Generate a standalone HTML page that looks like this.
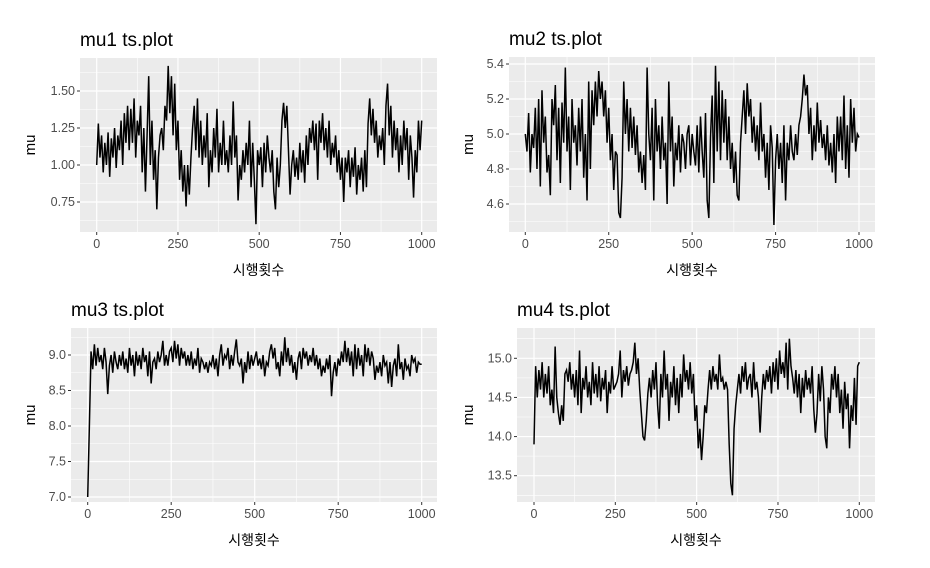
<!DOCTYPE html>
<html><head><meta charset="utf-8">
<style>
html,body{margin:0;padding:0;background:#fff;}
svg{display:block;}
text{font-family:"Liberation Sans","Noto Sans CJK KR",sans-serif;}
</style></head>
<body>
<svg id="chart" width="930" height="568" viewBox="0 0 930 568" xmlns="http://www.w3.org/2000/svg"></svg>
<script>
const xTicks = [0, 250, 500, 750, 1000];
const xMinor = [125, 375, 625, 875];
const stepSize = 5;
const mu1Values = [
1.0,1.28,1.05,1.2,0.95,1.15,1.0,1.22,0.92,1.18,1.05,1.25,0.98,1.2,1.1,1.3,1.0,1.35,1.15,1.4,
1.1,1.38,1.15,1.45,1.05,1.3,1.2,1.4,0.95,1.25,0.82,1.2,1.6,1.0,1.3,0.9,1.1,0.7,1.05,1.2,
1.25,1.1,1.4,1.3,1.67,1.35,1.6,1.2,1.55,1.1,1.3,0.9,1.1,0.82,1.0,0.72,1.0,0.8,1.05,1.25,
1.4,1.1,1.45,1.05,1.3,1.0,1.2,1.05,1.35,0.85,1.1,0.95,1.25,1.05,1.38,0.95,1.15,1.0,1.3,1.0,
1.1,0.95,1.2,1.0,1.43,1.05,1.2,0.76,1.0,0.9,1.1,0.95,1.15,1.0,1.3,0.85,1.15,0.9,0.6,1.1,
1.0,1.12,0.85,1.15,0.95,1.2,1.05,0.95,1.1,0.82,0.7,1.05,0.85,1.0,1.3,1.42,1.25,1.4,1.1,0.8,
1.0,1.1,0.92,1.05,0.9,1.15,0.95,1.1,0.88,1.2,1.0,1.25,1.15,1.3,1.1,1.28,0.9,1.3,1.15,1.35,
1.1,1.25,1.05,1.3,1.0,1.15,1.05,1.2,0.95,1.1,0.9,1.05,0.75,1.05,0.95,1.1,0.85,1.05,0.92,1.12,
0.8,1.0,0.9,1.05,0.82,1.1,0.85,1.28,1.45,1.2,1.38,1.15,1.3,1.05,1.2,1.1,1.25,1.0,1.4,1.55,
1.2,1.4,1.05,1.3,1.1,1.25,0.95,1.2,1.0,1.3,1.1,1.25,0.9,1.2,1.05,0.78,1.1,0.95,1.3,1.1,1.3];
const mu2Values = [
5.0,4.9,5.12,4.78,5.0,4.92,5.15,4.8,5.2,4.7,5.25,4.95,5.1,4.78,4.88,4.65,5.2,5.05,5.28,4.85,
5.15,4.72,5.18,4.95,5.38,4.9,5.1,4.68,5.2,4.95,5.05,4.82,5.15,4.9,5.2,4.75,5.0,4.62,5.3,4.8,
5.25,5.05,5.3,5.1,5.36,5.2,5.3,5.1,5.25,4.95,5.15,4.85,5.0,4.68,4.9,4.88,4.55,4.52,4.75,5.3,
5.0,5.2,4.9,5.15,4.92,5.1,4.88,5.05,4.78,4.9,4.72,4.88,4.68,5.38,5.0,4.85,5.15,4.62,5.2,4.9,
5.05,4.8,5.1,4.85,4.95,4.6,5.3,4.9,5.1,4.7,4.95,4.85,5.05,4.78,5.0,4.95,4.8,5.0,5.05,4.82,
5.0,4.9,4.82,5.05,4.78,5.1,4.9,4.75,5.12,4.62,4.52,4.98,5.22,4.72,5.39,4.9,5.3,4.85,5.25,4.95,
5.2,4.85,5.1,4.8,4.95,4.72,4.9,4.65,4.62,4.95,5.1,5.25,5.0,5.29,5.1,5.2,4.95,5.1,4.9,5.05,
4.85,5.18,4.9,5.0,4.75,4.95,4.68,5.05,4.92,4.48,4.85,5.0,4.8,4.95,4.72,5.05,4.62,4.95,4.85,5.05,
4.9,4.85,5.0,4.88,5.05,5.1,5.2,5.34,5.22,5.28,5.0,5.15,4.85,5.05,4.9,5.18,4.95,5.08,4.92,5.0,
4.85,5.05,4.82,4.95,4.78,5.0,4.72,5.1,4.9,5.1,4.85,5.22,4.8,5.05,4.75,5.2,4.95,5.15,4.9,5.0,4.98];
const mu3Values = [
7.0,8.0,9.05,8.8,9.15,8.85,9.1,8.9,9.0,8.8,9.1,8.9,8.45,8.85,9.0,8.75,9.05,8.9,8.8,9.0,
8.85,9.05,8.8,8.95,8.75,9.1,8.85,9.0,8.7,9.05,8.85,9.0,8.8,9.1,8.9,9.0,8.7,9.05,8.6,8.9,
8.95,8.8,9.05,8.9,9.0,9.2,8.85,9.0,8.85,9.05,9.1,8.9,9.2,8.95,9.15,8.85,9.1,8.95,9.05,8.85,
9.0,8.85,9.05,8.8,8.95,8.85,9.1,8.75,8.95,8.9,8.8,8.9,8.75,8.9,8.85,9.0,8.8,8.95,8.7,9.0,
9.15,8.85,9.0,8.95,9.1,8.8,9.0,8.85,9.05,9.22,8.9,8.85,8.95,8.6,8.9,8.75,9.05,8.8,9.0,8.85,
8.95,9.05,8.85,8.95,8.8,9.0,8.7,8.9,8.85,9.05,9.15,8.95,9.1,8.8,8.9,8.7,9.05,8.85,9.25,8.9,
9.1,8.85,9.0,8.75,8.9,8.65,8.95,9.05,8.8,9.1,8.95,9.05,8.85,9.0,8.9,9.1,8.85,9.0,8.8,8.95,
8.7,8.85,8.75,8.95,8.8,9.0,8.42,8.75,8.9,8.7,8.95,8.85,9.05,8.9,9.2,8.9,9.1,8.85,9.05,8.7,
9.15,8.8,9.1,8.85,9.0,8.7,9.15,8.9,9.1,8.85,9.05,8.95,8.65,8.85,8.75,8.9,8.7,9.0,8.85,8.9,
8.6,8.9,8.55,8.85,8.95,8.7,9.15,8.8,8.9,8.65,8.95,8.8,8.85,8.7,9.0,8.9,8.95,8.75,8.9,8.87,8.87];
const mu4Values = [
13.9,14.9,14.5,14.85,14.6,14.95,14.5,14.8,14.55,14.9,14.4,14.6,14.3,15.15,14.5,14.3,14.15,14.4,14.2,14.8,
14.85,14.7,14.95,14.6,14.8,14.5,14.85,14.4,15.1,14.3,14.75,14.6,14.9,14.5,14.7,14.4,14.95,14.55,14.8,14.5,
14.9,14.45,14.75,14.6,14.85,14.3,14.7,14.55,14.9,14.6,14.65,14.7,14.8,15.1,14.5,14.85,14.7,14.9,14.65,14.8,
14.85,14.95,15.2,14.8,15.0,14.6,14.3,14.0,13.95,14.2,14.55,14.75,14.5,14.85,14.6,14.95,14.4,14.1,14.8,14.5,
15.1,14.6,14.8,14.2,14.7,14.5,14.9,14.4,14.75,14.3,14.8,14.5,15.05,14.7,14.85,14.6,14.95,14.55,14.8,14.2,
14.4,13.85,14.1,13.7,14.0,14.4,14.3,14.6,14.85,14.6,14.9,14.7,14.8,14.6,15.05,14.7,14.75,14.6,14.7,14.6,
13.9,13.4,13.25,14.1,14.4,14.6,14.8,14.55,14.9,14.7,14.95,14.6,14.75,14.8,14.5,14.95,14.6,14.7,14.5,14.05,
14.5,14.8,14.6,14.85,14.7,14.9,14.55,14.95,14.7,15.0,14.6,15.1,14.8,14.95,14.75,15.2,14.6,15.25,14.9,14.75,
14.55,14.85,14.5,14.8,14.3,14.75,14.5,14.85,14.6,14.75,14.55,14.9,14.35,14.05,14.3,14.8,14.45,14.9,14.6,14.0,
13.85,14.5,14.3,14.8,14.6,14.9,14.5,14.8,14.3,14.6,14.1,14.7,14.35,14.55,13.85,14.4,14.2,14.75,14.15,14.9,14.95];
const mu1Ticks = [0.75, 1.00, 1.25, 1.50];
const mu2Ticks = [4.6, 4.8, 5.0, 5.2, 5.4];
const mu3Ticks = [7.0, 7.5, 8.0, 8.5, 9.0];
const mu4Ticks = [13.5, 14.0, 14.5, 15.0];

const NS = "http://www.w3.org/2000/svg";
const svg = document.getElementById('chart');
function mk(tag, attrs, parent){
  const e = document.createElementNS(NS, tag);
  for (const k in attrs) e.setAttribute(k, attrs[k]);
  (parent||svg).appendChild(e);
  return e;
}
function panel(cfg){
  const g = mk('g', {});
  
  
  const sx = v => cfg.x0 + (v - 0) * (cfg.x1000 - cfg.x0) / 1000;
  const sy = v => cfg.yA + (v - cfg.vA) * (cfg.yB - cfg.yA) / (cfg.vB - cfg.vA);
  const bg = mk('rect', {x:cfg.L, y:cfg.T, width:cfg.R-cfg.L, height:cfg.B-cfg.T, fill:'#EBEBEB'}, g);
  
  
  const step = cfg.ticks[1]-cfg.ticks[0];
  for (let v = cfg.ticks[0]-step*2; v <= cfg.ticks[cfg.ticks.length-1]+step*2; v += step){
    const m = v + step/2, y = sy(m);
    if (y > cfg.T && y < cfg.B) mk('line', {x1:cfg.L, x2:cfg.R, y1:y, y2:y, stroke:'#fff', 'stroke-width':0.6}, g);
  }
  xMinor.forEach(v => { const x = sx(v); mk('line', {x1:x, x2:x, y1:cfg.T, y2:cfg.B, stroke:'#fff', 'stroke-width':0.6}, g); });
  cfg.ticks.forEach(v => {
    const y = sy(v);
    mk('line', {x1:cfg.L, x2:cfg.R, y1:y, y2:y, stroke:'#fff', 'stroke-width':1.2}, g);
    mk('line', {x1:cfg.L-3, x2:cfg.L, y1:y, y2:y, stroke:'#333', 'stroke-width':1}, g);
    const t = mk('text', {x:cfg.L-5, y:y+4, 'text-anchor':'end', 'font-size':12.5, fill:'#4D4D4D'}, g);
    t.textContent = cfg.fmt(v);
    
    
  });
  xTicks.forEach(v => {
    const x = sx(v);
    mk('line', {x1:x, x2:x, y1:cfg.T, y2:cfg.B, stroke:'#fff', 'stroke-width':1.2}, g);
    mk('line', {x1:x, x2:x, y1:cfg.B, y2:cfg.B+3, stroke:'#333', 'stroke-width':1}, g);
    const t = mk('text', {x:x, y:cfg.B+16, 'text-anchor':'middle', 'font-size':12.5, fill:'#4D4D4D'}, g);
    t.textContent = v;
    
    
  });
  const pts = cfg.data.map((v,i) => sx(i*stepSize).toFixed(2) + ',' + sy(v).toFixed(2)).join(' ');
  const line = mk('polyline', {points:pts, fill:'none', stroke:'#000', 'stroke-width':1.5, 'stroke-linejoin':'miter'}, g);
  
  
  const title = mk('text', {x:cfg.L, y:cfg.T-12, 'font-size':19, fill:'#000'}, g);
  title.textContent = cfg.name + ' ts.plot';
  
  
  const yl = mk('text', {x:0, y:0, 'text-anchor':'middle', 'font-size':15, fill:'#000', transform:`translate(${cfg.ylx},${(cfg.T+cfg.B)/2}) rotate(-90)`}, g);
  yl.textContent = 'mu';
  
  
  const xl = mk('text', {x:(cfg.L+cfg.R)/2, y:cfg.B+43, 'text-anchor':'middle', 'font-size':14, fill:'#000'}, g);
  xl.textContent = '시행횟수';
  
  
}
panel({name:'mu1', data:mu1Values, ticks:mu1Ticks, fmt:v=>v.toFixed(2), L:80, R:437, T:58, B:232, x0:96.7, x1000:421.7, vA:1.5, yA:91, vB:1.0, yB:165, ylx:35});
panel({name:'mu2', data:mu2Values, ticks:mu2Ticks, fmt:v=>v.toFixed(1), L:509, R:875, T:57, B:232, x0:525.3, x1000:859, vA:5.4, yA:64, vB:4.6, yB:204, ylx:473});
panel({name:'mu3', data:mu3Values, ticks:mu3Ticks, fmt:v=>v.toFixed(1), L:71, R:437, T:328, B:502, x0:87.7, x1000:421.7, vA:9.0, yA:355, vB:7.0, yB:497, ylx:35});
panel({name:'mu4', data:mu4Values, ticks:mu4Ticks, fmt:v=>v.toFixed(1), L:517, R:875, T:328, B:502, x0:534, x1000:859.3, vA:15.0, yA:358.3, vB:13.5, yB:475.7, ylx:473});
</script>
</body></html>
